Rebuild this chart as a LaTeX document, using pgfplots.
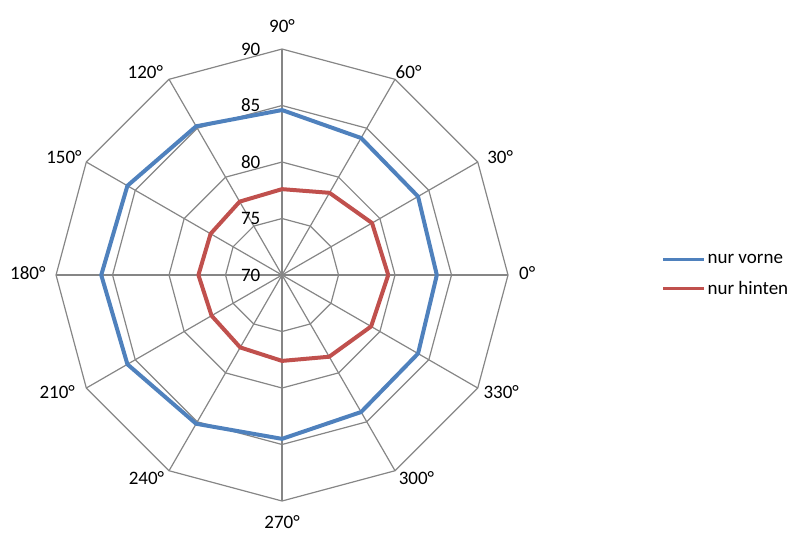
\documentclass[border=0pt]{standalone}
\usepackage{fontspec}
\setmainfont{Carlito}
\usepackage{pgfplots}
\usepackage{pgfplotstable}
\pgfplotsset{compat=1.18}

\definecolor{vorne}{HTML}{4F81BD}
\definecolor{hinten}{HTML}{C0504D}
\definecolor{netz}{HTML}{868686}

% Winkel in Grad, Werte der beiden Reihen (360 = Schluss des Polygons)
\pgfplotstableread{
winkel vorne hinten
0    83.7  79.4
30   83.9  79.2
60   84.0  78.4
90   84.6  77.6
120  85.2  77.5
150  85.8  77.3
180  86.0  77.4
210  85.8  77.2
240  85.2  77.4
270  84.5  77.6
300  84.0  78.35
330  83.9  79.1
360  83.7  79.4
}\daten

\begin{document}
\begin{tikzpicture}
\begin{axis}[
    x=11.3bp, y=11.3bp,
    xmin=-24.96, xmax=45.84,
    ymin=-23.45, ymax=24.34,
    hide axis, clip=false,
    font=\fontsize{19bp}{22bp}\selectfont,
    legend style={at={(axis cs:33.6,0)}, anchor=west, draw=none, fill=none,
        font=\fontsize{19bp}{22bp}\selectfont, row sep=13bp,
        inner sep=0pt, nodes={inner sep=1.5bp}, cells={anchor=west}},
    legend image code/.code={\draw[#1, line width=3.2bp] (0bp,0bp) -- (41bp,0bp);},
]
% Ringe (70, 75, 80, 85, 90) als Zwoelfecke
\pgfplotsinvokeforeach{5,10,15,20}{
    \addplot[netz, line width=1.2bp, data cs=polar, forget plot]
        coordinates {(0,#1)(30,#1)(60,#1)(90,#1)(120,#1)(150,#1)(180,#1)
                     (210,#1)(240,#1)(270,#1)(300,#1)(330,#1)(360,#1)};
}
% Speichen
\pgfplotsinvokeforeach{0,30,...,330}{
    \addplot[netz, line width=1.2bp, data cs=polar, forget plot]
        coordinates {(#1,0)(#1,20)};
}

\addplot[vorne, line width=4bp, line join=round, data cs=polar]
    table[x=winkel, y expr=\thisrow{vorne}-70] {\daten};
\addlegendentry{nur vorne}
\addplot[hinten, line width=4bp, line join=round, data cs=polar]
    table[x=winkel, y expr=\thisrow{hinten}-70] {\daten};
\addlegendentry{nur hinten}

% Radiale Beschriftung
\node[anchor=east, inner sep=0pt] at (axis cs:-1.9,0)  {70};
\node[anchor=east, inner sep=0pt] at (axis cs:-1.9,5)  {75};
\node[anchor=east, inner sep=0pt] at (axis cs:-1.9,10) {80};
\node[anchor=east, inner sep=0pt] at (axis cs:-1.9,15) {85};
\node[anchor=east, inner sep=0pt] at (axis cs:-1.9,20) {90};

% Winkelbeschriftung
\node at (axis cs:21.7,0.2)    {0°};
\node at (axis cs:19.3,10.4)   {30°};
\node at (axis cs:11.2,18.0)   {60°};
\node at (axis cs:0,22.0)      {90°};
\node at (axis cs:-12.1,18.0)  {120°};
\node at (axis cs:-19.3,10.4)  {150°};
\node at (axis cs:-22.5,0.2)   {180°};
\node at (axis cs:-19.9,-10.4) {210°};
\node at (axis cs:-12.0,-18.0) {240°};
\node at (axis cs:0,-21.9)     {270°};
\node at (axis cs:11.9,-18.0)  {300°};
\node at (axis cs:19.4,-10.4)  {330°};

\path (axis cs:-24.96,-23.45) rectangle (axis cs:45.84,24.34);
\end{axis}
\end{tikzpicture}
\end{document}
